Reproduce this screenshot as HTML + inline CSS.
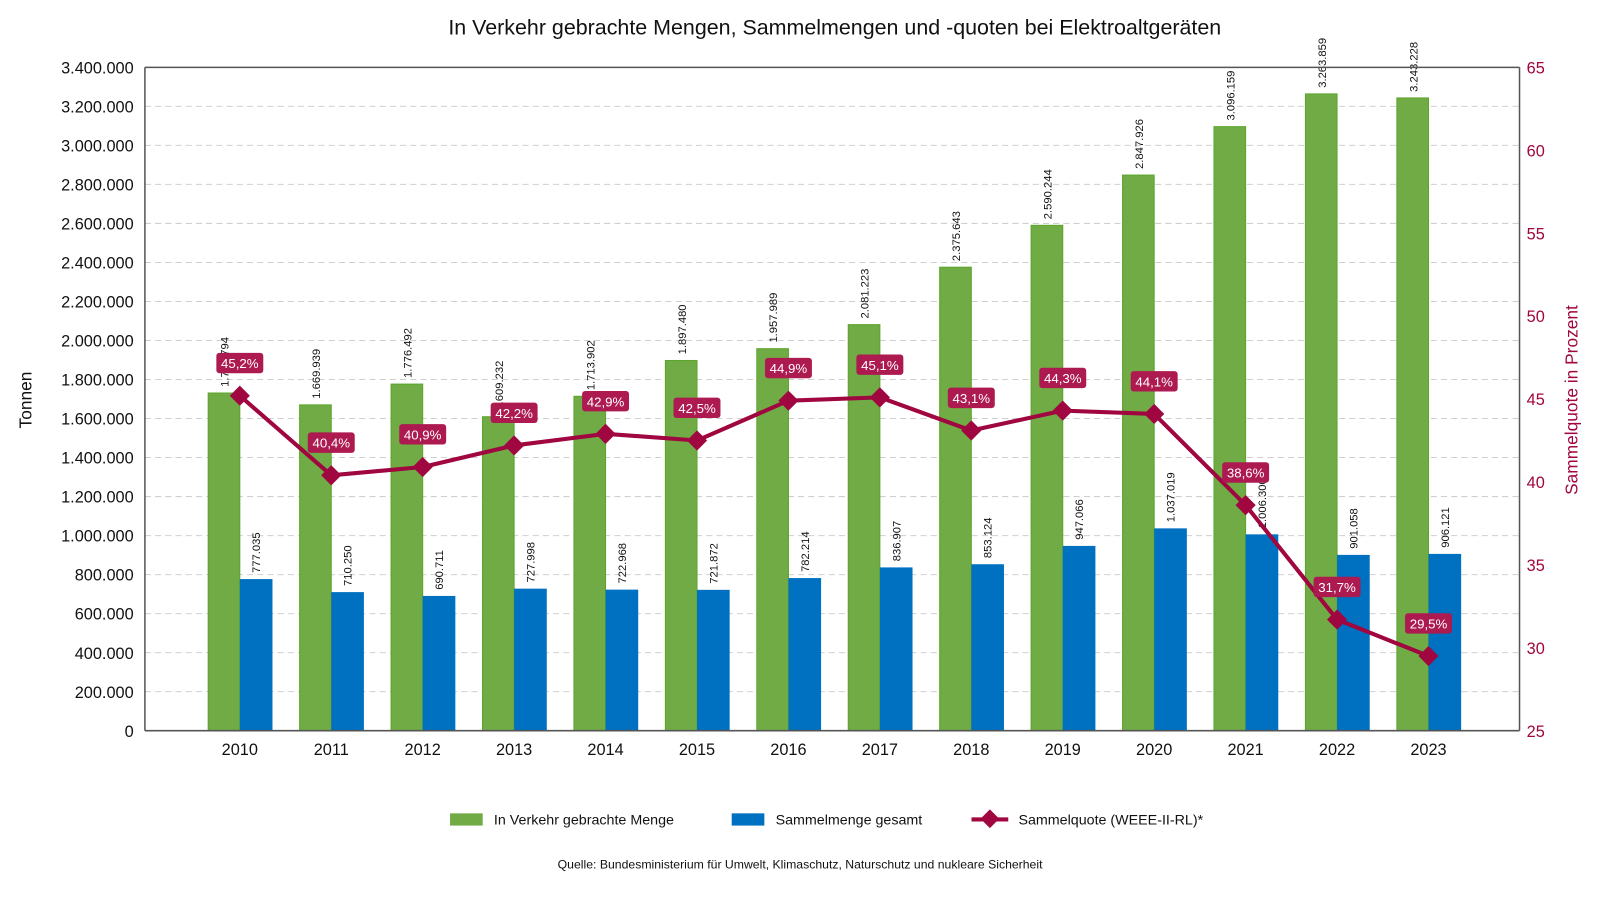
<!DOCTYPE html>
<html><head><meta charset="utf-8"><style>
html,body{margin:0;padding:0;background:#fff;overflow:hidden;width:1600px;height:914px}
svg{display:block}
svg text{font-family:"Liberation Sans",sans-serif}
</style></head><body>
<svg id="c" width="1600" height="914" viewBox="0 0 1600 914" xmlns="http://www.w3.org/2000/svg">
<g transform="scale(1.0205)">
<text x="818" y="34" text-anchor="middle" font-size="21" fill="#111">In Verkehr gebrachte Mengen, Sammelmengen und -quoten bei Elektroaltgeräten</text>
<text transform="translate(31,392) rotate(-90)" text-anchor="middle" font-size="17" fill="#111">Tonnen</text>
<text transform="translate(1546,392) rotate(-90)" text-anchor="middle" font-size="17" fill="#a0063f">Sammelquote in Prozent</text>
<g id="grid"></g><g id="bars"></g><g id="line"></g><g id="axes"></g>
<g>
<rect x="441" y="797" width="32" height="12" fill="#70ab46"/>
<text x="484" y="808" font-size="14" fill="#111">In Verkehr gebrachte Menge</text>
<rect x="717" y="797" width="32" height="12" fill="#0070c0"/>
<text x="760" y="808" font-size="14" fill="#111">Sammelmenge gesamt</text>
<line x1="952" y1="803" x2="988" y2="803" stroke="#a0063f" stroke-width="4"/>
<rect x="963" y="796" width="13" height="13" fill="#a0063f" transform="rotate(45 970 803)"/>
<text x="998" y="808" font-size="14" fill="#111">Sammelquote (WEEE-II-RL)*</text>
</g>
<text x="784" y="851" text-anchor="middle" font-size="12" fill="#111">Quelle: Bundesministerium für Umwelt, Klimaschutz, Naturschutz und nukleare Sicherheit</text>
</g>
</svg>
<script>
const years=["2010","2011","2012","2013","2014","2015","2016","2017","2018","2019","2020","2021","2022","2023"];
const menge=[1730794,1669939,1776492,1609232,1713902,1897480,1957989,2081223,2375643,2590244,2847926,3096159,3263859,3243228];
const sammel=[777035,710250,690711,727998,722968,721872,782214,836907,853124,947066,1037019,1006300,901058,906121];
const quote=[45.2,40.4,40.9,42.2,42.9,42.5,44.9,45.1,43.1,44.3,44.1,38.6,31.7,29.5];
const leftTicks=[0,200000,400000,600000,800000,1000000,1200000,1400000,1600000,1800000,2000000,2200000,2400000,2600000,2800000,3000000,3200000,3400000];
const rightTicks=[25,30,35,40,45,50,55,60,65];
const NS="http://www.w3.org/2000/svg";
const X0=142,X1=1489,Y0=716,Y1=66;
const y=v=>Y0-(v/3400000)*(Y0-Y1);
const y2=v=>Y0-((v-25)/40)*(Y0-Y1);
const xc=i=>235+i*89.6;
const fmt=n=>n.toLocaleString('de-DE');
function el(t,a,p,txt){const e=document.createElementNS(NS,t);for(const k in a)e.setAttribute(k,a[k]);if(txt!=null)e.textContent=txt;document.getElementById(p).appendChild(e);return e;}
leftTicks.forEach(t=>{
 if(t>0&&t<3400000){const g=el('line',{x1:X0,x2:X1,y1:y(t),y2:y(t),stroke:'#d0d0d0','stroke-dasharray':'6,4'},'grid');
 
 }
 const l=el('text',{x:131,y:y(t)+6,'text-anchor':'end','font-size':16,fill:'#111'},'axes',t===0?'0':fmt(t));
 
 
});
rightTicks.forEach(t=>{
 const l=el('text',{x:1496,y:y2(t)+6,'font-size':16,fill:'#a0063f'},'axes',String(t));
 
 
});
[[X0,Y1,X1,Y1],[X0,Y1,X0,Y0],[X0,Y0,X1,Y0],[X1,Y1,X1,Y0]].forEach(a=>{
 const l=el('line',{x1:a[0],y1:a[1],x2:a[2],y2:a[3],stroke:'#555','stroke-width':1.5},'axes');
 
 
});
years.forEach((yr,i)=>{
 const t=el('text',{x:xc(i),y:740,'text-anchor':'middle','font-size':16,fill:'#111'},'axes',yr);
 
 
 const g=el('rect',{x:xc(i)-31,y:y(menge[i]),width:31,height:Y0-y(menge[i]),fill:'#70ab46',stroke:'#5aa52a','stroke-width':1},'bars');
 
 
 const b=el('rect',{x:xc(i),y:y(sammel[i]),width:32,height:Y0-y(sammel[i]),fill:'#0070c0'},'bars');
 
 
 const gl=el('text',{transform:`translate(${xc(i)-11},${y(menge[i])-6}) rotate(-90)`,'font-size':11,fill:'#111'},'bars',fmt(menge[i]));
 
 
 const bl=el('text',{transform:`translate(${xc(i)+20},${y(sammel[i])-6}) rotate(-90)`,'font-size':11,fill:'#111'},'bars',fmt(sammel[i]));
 
 
});
const pts=quote.map((q,i)=>xc(i)+','+y2(q)).join(' ');
const pl=el('polyline',{points:pts,fill:'none',stroke:'#a0063f','stroke-width':4,'stroke-linejoin':'round'},'line');


quote.forEach((q,i)=>{
 const cx=xc(i),cy=y2(q);
 const m=el('rect',{x:cx-7,y:cy-7,width:14,height:14,fill:'#a0063f',transform:`rotate(45 ${cx} ${cy})`},'line');
 
 
 const bx=el('rect',{x:cx-23,y:cy-42,width:46,height:20,rx:3,fill:'#ad1a50'},'line');
 
 
 const t=el('text',{x:cx,y:cy-27,'text-anchor':'middle','font-size':13,fill:'#fff'},'line',q.toFixed(1).replace('.',',')+'%');
 
 
});
</script>
</body></html>
